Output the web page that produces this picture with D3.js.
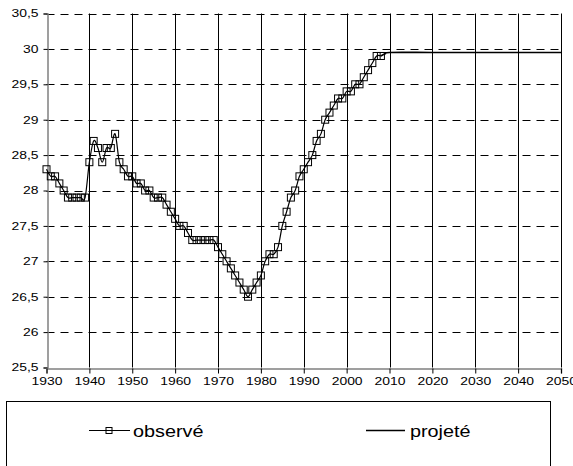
<!DOCTYPE html>
<html><head><meta charset="utf-8">
<script src="https://cdn.jsdelivr.net/npm/d3@7"></script>
<style>html,body{margin:0;padding:0;background:#fff;}svg{display:block;}</style>
</head><body>
<svg id="c" width="573" height="466"></svg>
<script>
const obsYears = [1930,1931,1932,1933,1934,1935,1936,1937,1938,1939,
  1940,1941,1942,1943,1944,1945,1946,1947,1948,1949,
  1950,1951,1952,1953,1954,1955,1956,1957,1958,1959,
  1960,1961,1962,1963,1964,1965,1966,1967,1968,1969,
  1970,1971,1972,1973,1974,1975,1976,1977,1978,1979,
  1980,1981,1982,1983,1984,1985,1986,1987,1988,1989,
  1990,1991,1992,1993,1994,1995,1996,1997,1998,1999,
  2000,2001,2002,2003,2004,2005,2006,2007,2008];
const obsValues = [28.3,28.2,28.2,28.1,28.0,27.9,27.9,27.9,27.9,27.9,
  28.4,28.7,28.6,28.4,28.6,28.6,28.8,28.4,28.3,28.2,
  28.2,28.1,28.1,28.0,28.0,27.9,27.9,27.9,27.8,27.7,
  27.6,27.5,27.5,27.4,27.3,27.3,27.3,27.3,27.3,27.3,
  27.2,27.1,27.0,26.9,26.8,26.7,26.6,26.5,26.6,26.7,
  26.8,27.0,27.1,27.1,27.2,27.5,27.7,27.9,28.0,28.2,
  28.3,28.4,28.5,28.7,28.8,29.0,29.1,29.2,29.3,29.3,
  29.4,29.4,29.5,29.5,29.6,29.7,29.8,29.9,29.9];
const projYears = [2008,2009,2010,2020,2030,2040,2050];
const projValues = [29.9,29.93,29.95,29.95,29.95,29.95,29.95];
const xTicks = [1930,1940,1950,1960,1970,1980,1990,2000,2010,2020,2030,2040,2050];
const yTicks = [25.5,26,26.5,27,27.5,28,28.5,29,29.5,30,30.5];
const seriesNames = ["observé","projeté"];

const svg = d3.select("#c");
const x = d3.scaleLinear().domain([1930,2050]).range([46.5,561]);
const y = d3.scaleLinear().domain([25.5,30.5]).range([367.5,13.5]);
const FONT = "Liberation Sans, Arial, sans-serif";
function stretch(sx){
  return function(sel){
    sel.each(function(){
      const l = this.getComputedTextLength();
      d3.select(this).attr("textLength", l*sx).attr("lengthAdjust","spacingAndGlyphs");
    });
  };
}

// horizontal dashed grid
svg.append("g").selectAll("line").data(yTicks.slice(1)).join("line")
  .attr("x1",x(1930)).attr("x2",x(2050))
  .attr("y1",d=>Math.round(y(d))+0.5).attr("y2",d=>Math.round(y(d))+0.5)
  .attr("stroke","#000").attr("stroke-width",1).attr("stroke-dasharray","8,6");
// vertical grid
svg.append("g").selectAll("line").data(xTicks.slice(1)).join("line")
  .attr("x1",d=>Math.round(x(d))+0.5).attr("x2",d=>Math.round(x(d))+0.5)
  .attr("y1",y(30.5)).attr("y2",y(25.5))
  .attr("stroke","#000").attr("stroke-width",1);

// axes
const ya = svg.append("g").attr("transform",`translate(${Math.round(x(1930))+0.5},0)`)
  .call(d3.axisLeft(y).tickValues(yTicks).tickSize(4).tickPadding(5)
    .tickFormat(d=>d3.format(".1~f")(d).replace(".",",")));
const xa = svg.append("g").attr("transform",`translate(0,${Math.round(y(25.5))+0.5})`)
  .call(d3.axisBottom(x).tickValues(xTicks).tickSize(5).tickPadding(4).tickFormat(d3.format("d")));
[ya,xa].forEach(a=>{
  a.select(".domain").attr("stroke","#808080").attr("stroke-width",1.5);
  a.selectAll(".tick line").attr("stroke","#000");
  a.selectAll("text").attr("font-family",FONT).attr("font-size",10.7).attr("fill","#000").call(stretch(1.3));
});

const line = d3.line().x(d=>x(d[0])).y(d=>y(d[1])).curve(d3.curveCatmullRom.alpha(0));
const obs = obsYears.map((yr,i)=>[yr,obsValues[i]]);
const proj = projYears.map((yr,i)=>[yr,projValues[i]]);

svg.append("path").datum(proj).attr("d",line).attr("fill","none").attr("stroke","#000").attr("stroke-width",1.6);
svg.append("path").datum(obs).attr("d",line).attr("fill","none").attr("stroke","#000").attr("stroke-width",1.2);
svg.append("g").selectAll("rect").data(obs).join("rect")
  .attr("x",d=>x(d[0])-3.5).attr("y",d=>y(d[1])-3.5).attr("width",7).attr("height",7)
  .attr("fill","none").attr("stroke","#000").attr("stroke-width",1);

// legend
const lg = svg.append("g");
lg.append("rect").attr("x",6.5).attr("y",401.5).attr("width",544).attr("height",90)
  .attr("fill","#fff").attr("stroke","#000").attr("stroke-width",1);
const ly = 430.5;
lg.append("line").attr("x1",89).attr("x2",130).attr("y1",ly).attr("y2",ly).attr("stroke","#000").attr("stroke-width",1.2);
lg.append("rect").attr("x",106).attr("y",ly-3).attr("width",6).attr("height",6).attr("fill","none").attr("stroke","#000");
lg.append("text").attr("x",133).attr("y",ly+6).text(seriesNames[0]);
lg.append("line").attr("x1",366).attr("x2",405).attr("y1",ly).attr("y2",ly).attr("stroke","#000").attr("stroke-width",1.6);
lg.append("text").attr("x",410).attr("y",ly+6).text(seriesNames[1]);
lg.selectAll("text").attr("font-family",FONT).attr("font-size",16.5).attr("fill","#000").call(stretch(1.2));
</script>
</body></html>
